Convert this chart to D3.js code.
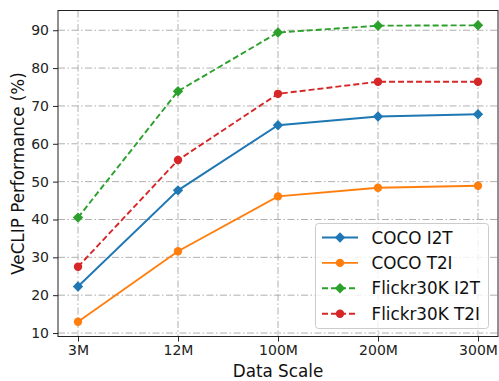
<!DOCTYPE html>
<html>
<head>
<meta charset="utf-8">
<script src="https://cdn.jsdelivr.net/npm/d3@7"></script>
<style>
  body { margin: 0; background: #fff; }
  svg { font-family: "DejaVu Sans", sans-serif; }
</style>
</head>
<body>
<div id="chart"></div>
<script>
var scales = ['3M', '12M', '100M', '200M', '300M'];
var yTicks = [10, 20, 30, 40, 50, 60, 70, 80, 90];

var cocoI2T = [22.3, 47.7, 64.9, 67.2, 67.8];
var cocoT2I = [13.0, 31.6, 46.1, 48.4, 48.9];
var flickrI2T = [40.5, 73.9, 89.4, 91.2, 91.3];
var flickrT2I = [27.5, 55.7, 73.2, 76.4, 76.4];

var series = [
  {name: 'COCO I2T', values: cocoI2T, color: '#1f77b4', marker: 'diamond', dash: null},
  {name: 'COCO T2I', values: cocoT2I, color: '#ff7f0e', marker: 'circle', dash: null},
  {name: 'Flickr30K I2T', values: flickrI2T, color: '#2ca02c', marker: 'diamond', dash: '6,3'},
  {name: 'Flickr30K T2I', values: flickrT2I, color: '#d62728', marker: 'circle', dash: '6,3'}
];

var W = 499, H = 381;
var m = {t: 10.5, b: 44.5, l: 58, r: 1};
var w = W - m.l - m.r, h = H - m.t - m.b;

var svg = d3.select('#chart').append('svg')
  .attr('width', W).attr('height', H);
var g = svg.append('g').attr('transform', 'translate(' + m.l + ',' + m.t + ')');

var x = d3.scaleLinear().domain([-0.2, scales.length - 1 + 0.2]).range([0, w]);
var allVals = [].concat(cocoI2T, cocoT2I, flickrI2T, flickrT2I);
var lo = d3.min(allVals), hi = d3.max(allVals), pad = (hi - lo) * 0.05;
var y = d3.scaleLinear().domain([lo - pad, hi + pad]).range([h, 0]);

// grid
g.append('g').selectAll('line').data(scales).enter().append('line')
  .attr('x1', (d, i) => x(i)).attr('x2', (d, i) => x(i))
  .attr('y1', 0).attr('y2', h)
  .attr('stroke', '#b0b0b0').attr('stroke-width', 1)
  .attr('stroke-dasharray', '7,2.5,1.5,2.5');
g.append('g').selectAll('line').data(yTicks).enter().append('line')
  .attr('x1', 0).attr('x2', w)
  .attr('y1', d => y(d)).attr('y2', d => y(d))
  .attr('stroke', '#b0b0b0').attr('stroke-width', 1)
  .attr('stroke-dasharray', '7,2.5,1.5,2.5');

// axes
var xAxis = g.append('g').attr('transform', 'translate(0,' + h + ')')
  .call(d3.axisBottom(x).tickValues(d3.range(scales.length)).tickFormat(i => scales[i]).tickSize(5).tickPadding(4));
var yAxis = g.append('g')
  .call(d3.axisLeft(y).tickValues(yTicks).tickSize(5).tickPadding(4));
[xAxis, yAxis].forEach(a => {
  a.select('.domain').remove();
  a.selectAll('.tick line').attr('stroke', '#222').attr('stroke-width', 1);
  a.selectAll('.tick text').attr('fill', '#222').style('font-size', '14px')
    .style('font-family', '"DejaVu Sans", sans-serif');
});

// lines and markers
var line = d3.line().x((d, i) => x(i)).y(d => y(d));
var diamond = function(cx, cy, r) {
  return 'M' + cx + ',' + (cy - r) + 'L' + (cx + r) + ',' + cy + 'L' + cx + ',' + (cy + r) + 'L' + (cx - r) + ',' + cy + 'Z';
};

function drawMarker(sel, s, cx, cy) {
  if (s.marker == 'diamond') {
    sel.append('path').attr('d', diamond(cx, cy, 5.2)).attr('fill', s.color);
  } else {
    sel.append('circle').attr('cx', cx).attr('cy', cy).attr('r', 4.2).attr('fill', s.color);
  }
}

series.forEach(s => {
  g.append('path').datum(s.values)
    .attr('d', line)
    .attr('fill', 'none')
    .attr('stroke', s.color)
    .attr('stroke-width', 1.9)
    .attr('stroke-dasharray', s.dash);
  var mg = g.append('g');
  s.values.forEach((v, i) => drawMarker(mg, s, x(i), y(v)));
});

// frame
g.append('rect').attr('width', w).attr('height', h)
  .attr('fill', 'none').attr('stroke', '#222').attr('stroke-width', 1);

// labels
svg.append('text')
  .attr('x', m.l + w / 2).attr('y', 377)
  .attr('text-anchor', 'middle')
  .style('font-size', '16.8px').attr('fill', '#111')
  .text('Data Scale');
svg.append('text')
  .attr('transform', 'translate(24,' + (m.t + h / 2) + ') rotate(-90)')
  .attr('text-anchor', 'middle')
  .style('font-size', '16.8px').attr('fill', '#111')
  .text('VeCLIP Performance (%)');

// legend
var lg = svg.append('g');
lg.append('rect')
  .attr('x', 315.5).attr('y', 223.5).attr('width', 173).attr('height', 105)
  .attr('rx', 3)
  .attr('fill', 'rgba(255,255,255,0.8)').attr('stroke', '#ccc').attr('stroke-width', 1);
series.forEach((s, i) => {
  var cy = 237.5 + i * 25.4;
  lg.append('line')
    .attr('x1', 322).attr('x2', 358).attr('y1', cy).attr('y2', cy)
    .attr('stroke', s.color).attr('stroke-width', 1.9)
    .attr('stroke-dasharray', s.dash);
  drawMarker(lg, s, 340, cy);
  lg.append('text')
    .attr('x', 371.5).attr('y', cy + 6)
    .style('font-size', '16.8px').attr('fill', '#111')
    .text(s.name);
});
</script>
</body>
</html>
